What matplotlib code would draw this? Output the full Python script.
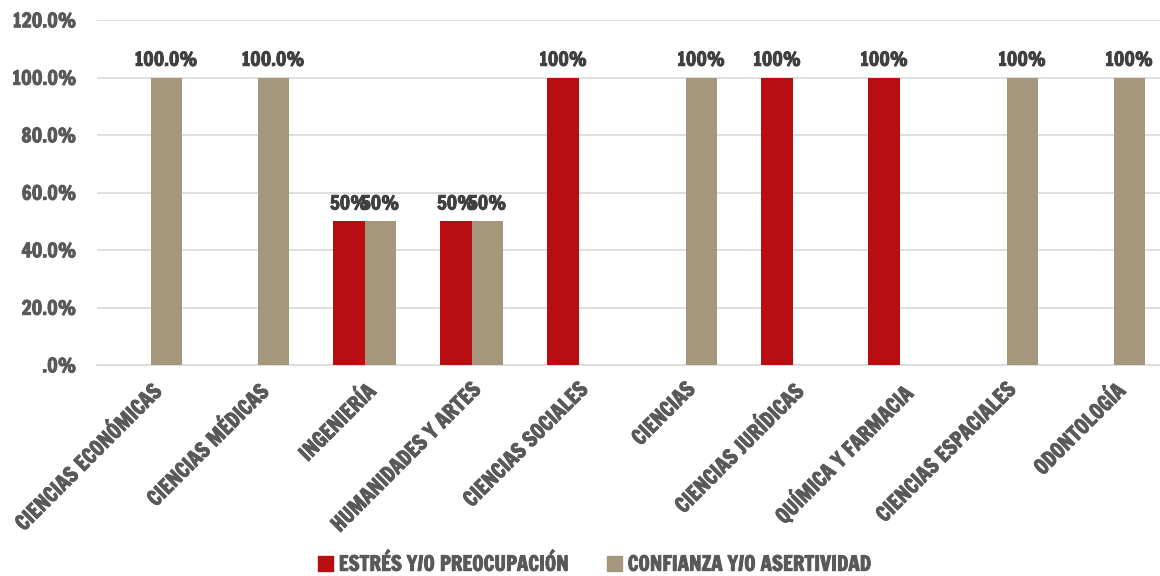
import matplotlib
matplotlib.use("Agg")
import matplotlib.pyplot as plt
import matplotlib.patheffects as pe
import numpy as np
from matplotlib.ticker import FuncFormatter
from matplotlib.patches import Patch

categories = ["CIENCIAS ECONÓMICAS", "CIENCIAS MÉDICAS", "INGENIERÍA", "HUMANIDADES Y ARTES",
              "CIENCIAS SOCIALES", "CIENCIAS", "CIENCIAS JURÍDICAS", "QUÍMICA Y FARMACIA",
              "CIENCIAS ESPACIALES", "ODONTOLOGÍA"]
estres = [0, 0, 50, 50, 100, 0, 100, 100, 0, 0]
confianza = [100, 100, 50, 50, 0, 100, 0, 0, 100, 100]
estres_labels = ["", "", "50%", "50%", "100%", "", "100%", "100%", "", ""]
confianza_labels = ["100.0%", "100.0%", "50%", "50%", "", "100%", "", "", "100%", "100%"]
series_names = ["ESTRÉS Y/O PREOCUPACIÓN", "CONFIANZA Y/O ASERTIVIDAD"]

RED = "#B80E12"
TAN = "#A5977B"
AXIS_TEXT = "#595959"
LABEL_TEXT = "#404040"
FONT = ["Francois One", "Anton", "DejaVu Sans"]


def heavy(color):
    return [pe.withStroke(linewidth=0.7, foreground=color)]


plt.rcParams["font.family"] = FONT
plt.rcParams["font.weight"] = "normal"

fig = plt.figure(figsize=(11.6, 5.76), dpi=100)
ax = fig.add_axes([97 / 1160, 1 - 365 / 576, 1070 / 1160, 345 / 576])

x = np.arange(len(categories))
w = 0.29
b1 = ax.bar(x - w / 2, estres, w, color=RED, zorder=3)
b2 = ax.bar(x + w / 2, confianza, w, color=TAN, zorder=3)

for bars, labels in ((b1, estres_labels), (b2, confianza_labels)):
    for rect, lab in zip(bars, labels):
        if lab:
            ax.text(rect.get_x() + rect.get_width() / 2, rect.get_height() + 3, lab,
                    ha="center", va="bottom", fontsize=13.7, color=LABEL_TEXT,
                    path_effects=heavy(LABEL_TEXT))

ax.set_xlim(-0.5, len(categories) - 0.5)
ax.set_ylim(0, 120)
ax.set_yticks(np.arange(0, 121, 20))
ax.yaxis.set_major_formatter(FuncFormatter(lambda v, _: ".0%" if v == 0 else f"{v:.1f}%"))
ax.grid(axis="y", color="#D9D9D9", linewidth=1.2, zorder=0)
for s in ["top", "right", "left"]:
    ax.spines[s].set_visible(False)
ax.spines["bottom"].set_color("#D9D9D9")
ax.spines["bottom"].set_linewidth(1.2)
ax.tick_params(axis="both", length=0, colors=AXIS_TEXT)
ax.tick_params(axis="y", pad=15, labelsize=14)
ax.set_xticks(x)
ax.set_xticklabels(categories, rotation=45, ha="right", rotation_mode="anchor",
                   color=AXIS_TEXT, fontsize=15)
ax.tick_params(axis="x", pad=10)
for t in ax.get_xticklabels() + ax.get_yticklabels():
    t.set_path_effects(heavy(AXIS_TEXT))

handles = [Patch(color=RED), Patch(color=TAN)]
leg = fig.legend(handles, series_names, loc="center", bbox_to_anchor=(595 / 1160, 1 - 563 / 576),
                 ncol=2, frameon=False, fontsize=14.8, handlelength=0.7, handleheight=0.7,
                 columnspacing=1.85, handletextpad=0.3, labelcolor=AXIS_TEXT)
for t in leg.get_texts():
    t.set_path_effects(heavy(AXIS_TEXT))

fig.savefig("out.png", dpi=100)
